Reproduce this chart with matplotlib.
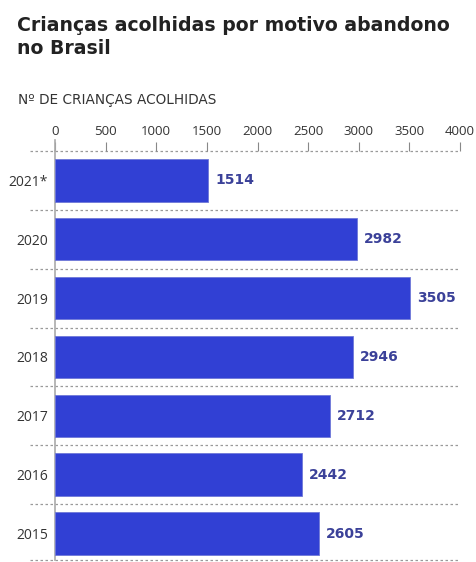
import matplotlib.pyplot as plt

anos = ['2021*', '2020', '2019', '2018', '2017', '2016', '2015']
valores = [1514, 2982, 3505, 2946, 2712, 2442, 2605]
ticks = [0, 500, 1000, 1500, 2000, 2500, 3000, 3500, 4000]

cor_barra = '#3140d4'
cor_valor = '#3b4199'

plt.rcParams['font.family'] = ['Open Sans', 'DejaVu Sans']

fig = plt.figure(figsize=(4.76, 5.62), dpi=100)
ax = fig.add_axes([55/476, 1 - 560/562, 405/476, 409/562])

y = list(range(len(anos)))
ax.barh(y, valores, height=0.72, color=cor_barra, edgecolor='#6f78d8', linewidth=0.6, zorder=3)
ax.set_xlim(0, 4000)
ax.set_ylim(6.45, -0.5)

# linhas pontilhadas entre as barras
for s in [i - 0.5 for i in range(len(anos))] + [6.45]:
    ax.axhline(s, xmin=-0.062, xmax=0.995, color='#9a9a9a', lw=0.9,
               ls=(0, (2, 2)), clip_on=False, zorder=1)

for i, v in enumerate(valores):
    ax.text(v + 70, i, str(v), va='center', ha='left', fontsize=10,
            fontweight='bold', color=cor_valor, family='DejaVu Sans')

ax.set_yticks(y)
ax.set_yticklabels(anos, fontsize=10, color='#333333')
ax.tick_params(axis='y', length=0, pad=5)

ax.xaxis.tick_top()
ax.set_xticks(ticks)
ax.set_xticklabels([str(t) for t in ticks], fontsize=9.5, color='#333333')
ax.tick_params(axis='x', length=6.5, width=0.8, color='#888888', pad=3)

for sp in ['top', 'right', 'bottom']:
    ax.spines[sp].set_visible(False)
ax.spines['left'].set_color('#aaaaaa')
ax.spines['left'].set_linewidth(1.2)
ax.plot([0, 0], [-0.5, -0.68], color='#aaaaaa', lw=1.2, clip_on=False)

fig.text(17/476, 1 - 37/562, 'Crianças acolhidas por motivo abandono\nno Brasil',
         fontsize=13.6, fontweight='bold', color='#222222', va='center',
         linespacing=1.3, family='DejaVu Sans')
fig.text(18/476, 1 - 100/562, 'Nº DE CRIANÇAS ACOLHIDAS', fontsize=9.8,
         color='#333333', va='center', family='DejaVu Sans')

plt.savefig('out.png', dpi=100)
